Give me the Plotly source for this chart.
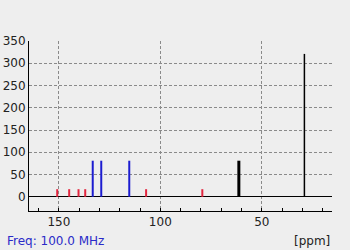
import plotly.graph_objects as go

# Peak data (ppm, intensity, group)
shifts = [150.8, 144.9, 140.3, 137.0, 133.3, 129.1, 115.3, 107.0, 79.3, 61.3, 29.0]
intensities = [17, 17, 17, 17, 81, 81, 81, 17, 17, 81, 321]
groups = ["red", "red", "red", "red", "blue", "blue", "blue", "red", "red", "bold", "black"]

y_ticks = [0, 50, 100, 150, 200, 250, 300, 350]
x_ticks = [150, 100, 50]
freq_label = "Freq: 100.0 MHz"
unit_label = "[ppm]"

styles = {
    "red": dict(color="#e2263f", width=2),
    "blue": dict(color="#1c1cd0", width=2),
    "bold": dict(color="#000000", width=3),
    "black": dict(color="#000000", width=1.5),
}

fig = go.Figure()
for g, st in styles.items():
    xs, ys = [], []
    for s, h, gg in zip(shifts, intensities, groups):
        if gg == g:
            xs += [s, s, None]
            ys += [0, h, None]
    fig.add_trace(go.Scatter(x=xs, y=ys, mode="lines", line=st,
                             hoverinfo="skip", showlegend=False))

fig.update_layout(
    width=350, height=250,
    margin=dict(l=29, r=18, t=41, b=39),
    paper_bgcolor="#eeeeee", plot_bgcolor="#eeeeee",
    font=dict(family="DejaVu Sans", size=12, color="#222222"),
    showlegend=False,
)
fig.update_xaxes(
    range=[164.7, 15.4], tickvals=x_ticks, ticks="inside", ticklen=3,
    tickcolor="#000", showline=True, linecolor="#000", linewidth=1,
    showgrid=True, gridcolor="#8a8a8a", griddash="3px,2px", gridwidth=1,
    zeroline=False, automargin=False,
    minor=dict(dtick=10, tick0=0, ticks="inside", ticklen=3, tickcolor="#000", showgrid=False),
)
fig.update_yaxes(
    range=[-32, 350], tickvals=y_ticks, ticks="",
    showline=True, linecolor="#000", linewidth=1,
    showgrid=True, gridcolor="#8a8a8a", griddash="3px,2px", gridwidth=1,
    zeroline=True, zerolinecolor="#000", zerolinewidth=1, automargin=False,
)
fig.add_annotation(text=freq_label, xref="paper", yref="paper", x=0, y=0,
                   xanchor="left", yanchor="middle", showarrow=False,
                   font=dict(color="#2a2ac8", size=12), xshift=-24, yshift=-30)
fig.add_annotation(text=unit_label, xref="paper", yref="paper", x=1, y=0,
                   xanchor="right", yanchor="middle", showarrow=False,
                   font=dict(size=12), yshift=-30)
fig.write_html("out.html")
